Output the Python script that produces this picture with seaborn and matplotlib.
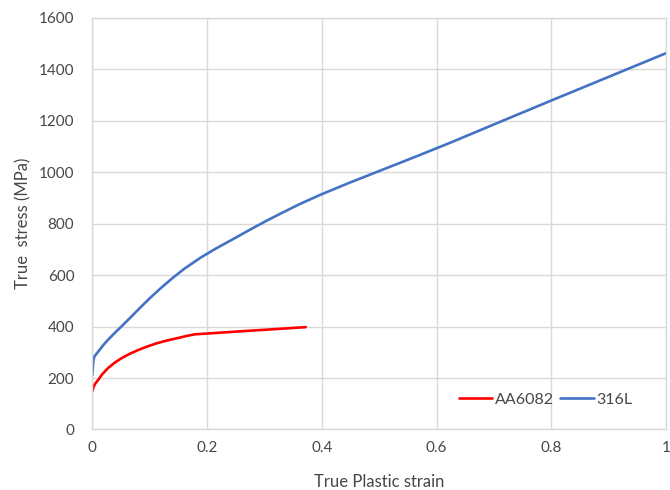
import numpy as np
import pandas as pd
import matplotlib
matplotlib.use("Agg")
import matplotlib.pyplot as plt
import seaborn as sns

# Flow curves (true plastic strain vs. true stress, MPa)
strain_316l = [0.0, 0.002, 0.004, 0.01, 0.018, 0.027, 0.038, 0.05, 0.065, 0.08,
               0.1, 0.12, 0.14, 0.161, 0.19, 0.215, 0.246, 0.275, 0.304, 0.333,
               0.362, 0.40, 0.449, 0.507, 0.565, 0.624, 0.70, 0.80, 0.90, 1.0]
stress_316l = [212, 270, 285, 302, 325, 348, 373, 399, 432, 466,
               510, 551, 589, 626, 670, 703, 741, 777, 812, 845,
               877, 915, 960, 1011, 1062, 1115, 1186, 1279, 1371, 1463]

strain_aa6082 = [0.0, 0.002, 0.005, 0.01, 0.017, 0.027, 0.038, 0.05, 0.065, 0.08,
                 0.095, 0.112, 0.13, 0.15, 0.165, 0.179, 0.22, 0.26, 0.31, 0.372]
stress_aa6082 = [150, 165, 178, 192, 214, 238, 258, 276, 294, 309,
                 322, 335, 346, 356, 364, 370, 376, 382, 389, 398]

series_names = ["AA6082", "316L"]
series_colors = ["#FF0000", "#4472C4"]

x_ticks = [0, 0.2, 0.4, 0.6, 0.8, 1.0]
x_tick_labels = ["0", "0.2", "0.4", "0.6", "0.8", "1"]
y_ticks = list(range(0, 1601, 200))

df = pd.concat([
    pd.DataFrame({"strain": strain_aa6082, "stress": stress_aa6082, "material": "AA6082"}),
    pd.DataFrame({"strain": strain_316l, "stress": stress_316l, "material": "316L"}),
], ignore_index=True)

sns.set_style("white")
plt.rcParams["font.family"] = ["Lato", "DejaVu Sans"]

grid_color = "#D9D9D9"
text_color = "#474747"

fig = plt.figure(figsize=(6.7, 4.9), dpi=100)
ax = fig.add_axes([0.1378, 0.1235, 0.8562, 0.8398])

sns.lineplot(data=df, x="strain", y="stress", hue="material",
             hue_order=series_names, palette=series_colors,
             linewidth=1.9, sort=False, estimator=None, ax=ax)
for line in ax.get_lines():
    line.set_solid_joinstyle("round")
    line.set_solid_capstyle("round")

ax.set_xlim(0, 1)
ax.set_ylim(0, 1600)
ax.set_xticks(x_ticks)
ax.set_xticklabels(x_tick_labels)
ax.set_yticks(y_ticks)
ax.grid(True, color=grid_color, linewidth=1.0)
ax.set_axisbelow(True)
for side in ["left", "right", "top", "bottom"]:
    ax.spines[side].set_visible(True)
    ax.spines[side].set_color(grid_color)
    ax.spines[side].set_linewidth(1.0)

ax.tick_params(axis="both", length=0, labelsize=11, colors=text_color)
ax.tick_params(axis="y", pad=13)
ax.tick_params(axis="x", pad=8)

ax.set_xlabel("True Plastic strain", fontsize=12, color=text_color, labelpad=14)
ax.set_ylabel("True  stress (MPa)", fontsize=12, color=text_color, labelpad=5)

leg = ax.legend(loc="center", bbox_to_anchor=(0.79, 0.072), ncol=2, frameon=False,
                fontsize=11.5, handlelength=2.1, handletextpad=0.15, columnspacing=0.4,
                title=None)
for t in leg.get_texts():
    t.set_color(text_color)

fig.savefig("out.png", dpi=100)
